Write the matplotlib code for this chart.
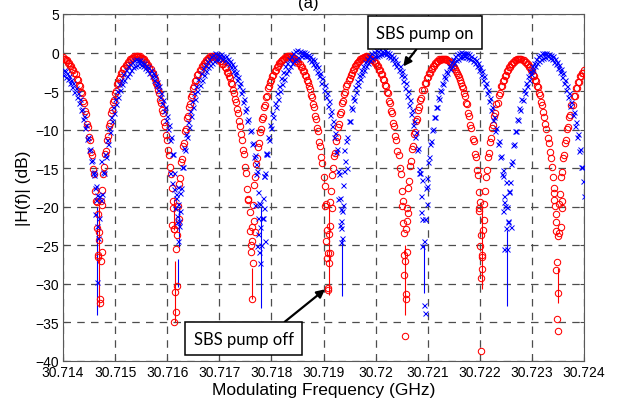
import numpy as np
import matplotlib
matplotlib.use("Agg")
import matplotlib.pyplot as plt

plt.rcParams['font.family'] = ['Liberation Sans', 'DejaVu Sans']

# sweep: start frequency (GHz) and step (MHz)
f_start = 30.714
step_mhz = 0.02

# |H(f)| in dB, SBS pump off (red circles), one value per sweep point
red_db = [
    # edge
    -0.6, -0.8, -0.8, -1.0, -1.0, -1.3, -1.4, -1.7, -1.7, -2.1, -2.2, -2.7, -2.8, -3.4, -3.5, -4.2, -4.3,
    -5.1, -5.3, -6.3, -6.5, -7.6, -8.0, -9.3, -9.6, -11.0, -11.4, -12.9, -13.3, -15.1, -15.8, -17.9, -19.2, -22.8,
    -26.5,
    # lobe 1
    -23.3, -19.2, -17.8, -15.7, -14.9, -13.2, -12.8, -11.3, -10.8, -9.5, -9.1, -7.9, -7.5, -6.4, -6.2, -5.2, -5.0,
    -4.1, -4.0, -3.4, -3.2, -2.7, -2.6, -2.1, -2.0, -1.6, -1.6, -1.2, -1.2, -0.9, -0.9, -0.7, -0.7, -0.5, -0.6,
    -0.4, -0.5,
    -0.5, -0.6, -0.5, -0.7, -0.7, -0.9, -0.9, -1.2, -1.2, -1.6, -1.6, -2.0, -2.1, -2.6, -2.7, -3.2, -3.4, -4.0,
    -4.2, -4.9, -5.3, -6.1, -6.5, -7.4, -7.9, -9.0, -9.5, -10.7, -11.3, -12.6, -13.3, -14.8, -15.8, -17.6, -19.3, -22.9,
    -25.5,
    # lobe 2
    -22.4, -19.9, -17.1, -16.3, -14.2, -13.8, -12.1, -11.7, -10.2, -9.9, -8.5, -8.2, -7.0, -6.7, -5.7, -5.5, -4.6,
    -4.3, -3.7, -3.5, -2.9, -2.8, -2.3, -2.2, -1.8, -1.7, -1.3, -1.3, -1.0, -1.0, -0.7, -0.7, -0.5, -0.6, -0.4, -0.4,
    -0.5, -0.4, -0.6, -0.6, -0.8, -0.8, -1.1, -1.1, -1.5, -1.5, -1.9, -2.0, -2.5, -2.6, -3.1, -3.3, -3.9, -4.1,
    -4.8, -5.2, -6.0, -6.4, -7.3, -7.9, -8.9, -9.5, -10.6, -11.3, -12.6, -13.2, -14.9, -15.6, -17.7, -19.1, -23.2,
    -25.0,
    # lobe 3
    -22.6, -19.8, -17.2, -16.2, -14.4, -13.7, -12.2, -11.7, -10.3, -9.9, -8.6, -8.3, -7.1, -6.8, -5.8, -5.6, -4.6,
    -4.4, -3.8, -3.6, -3.0, -2.9, -2.4, -2.3, -1.9, -1.8, -1.4, -1.4, -1.1, -1.0, -0.8, -0.8, -0.6, -0.6, -0.5,
    -0.5, -0.4,
    -0.5, -0.5, -0.7, -0.6, -0.8, -0.8, -1.1, -1.1, -1.4, -1.5, -1.9, -1.9, -2.4, -2.4, -2.9, -3.0, -3.6, -3.8,
    -4.4, -4.7, -5.5, -5.8, -6.7, -7.1, -8.2, -8.6, -9.8, -10.2, -11.6, -12.1, -13.6, -14.3, -16.1, -17.3, -19.7, -23.0,
    -26.0,
    # lobe 4
    -23.5, -19.4, -17.9, -15.9, -15.0, -13.4, -13.0, -11.5, -11.0, -9.6, -9.3, -8.0, -7.7, -6.6, -6.3, -5.4, -5.1,
    -4.4, -4.1, -3.6, -3.3, -2.9, -2.7, -2.3, -2.1, -1.8, -1.6, -1.4, -1.2, -1.1, -0.9, -0.9, -0.7, -0.7, -0.6,
    -0.6, -0.5,
    -0.6, -0.6, -0.7, -0.8, -0.8, -1.0, -1.1, -1.3, -1.3, -1.7, -1.7, -2.2, -2.2, -2.8, -2.8, -3.4, -3.5, -4.2,
    -4.3, -5.1, -5.3, -6.3, -6.5, -7.6, -7.9, -9.2, -9.5, -10.8, -11.3, -12.8, -13.3, -15.0, -15.8, -17.9, -19.2, -23.4,
    -27.0,
    # lobe 5
    -22.9, -20.1, -17.5, -16.6, -14.7, -14.1, -12.5, -12.1, -10.6, -10.3, -8.9, -8.6, -7.4, -7.1, -6.1, -5.9, -4.9,
    -4.8, -4.0, -3.9, -3.3, -3.2, -2.7, -2.6, -2.1, -2.1, -1.7, -1.7, -1.4, -1.4, -1.1, -1.1, -0.9, -1.0, -0.8,
    -0.9, -0.8,
    -0.8, -0.9, -0.9, -1.0, -1.1, -1.2, -1.4, -1.5, -1.7, -1.9, -2.1, -2.4, -2.6, -2.9, -3.2, -3.6, -3.9, -4.4,
    -4.6, -5.3, -5.6, -6.5, -6.7, -7.8, -8.2, -9.4, -9.8, -11.2, -11.5, -13.2, -13.5, -15.2, -15.9, -18.1, -19.4, -23.6,
    -26.5,
    # lobe 6
    -23.0, -19.6, -18.0, -16.1, -15.2, -13.6, -13.0, -11.6, -11.1, -9.8, -9.4, -8.2, -7.8, -6.7, -6.5, -5.5, -5.3,
    -4.4, -4.3, -3.7, -3.5, -3.0, -2.9, -2.4, -2.3, -1.9, -1.9, -1.5, -1.5, -1.2, -1.2, -1.0, -1.0, -0.8, -0.9, -0.8,
    -0.9, -0.8, -1.0, -1.0, -1.2, -1.2, -1.5, -1.5, -1.9, -1.9, -2.3, -2.4, -2.9, -3.0, -3.5, -3.7, -4.3, -4.5,
    -5.2, -5.5, -6.4, -6.8, -7.7, -8.3, -9.3, -9.9, -11.1, -11.7, -12.9, -13.7, -14.9, -16.1, -17.6, -19.9, -23.1,
    -27.2,
    # edge
    -23.8, -19.7, -18.3, -16.2, -15.5, -13.7, -13.3, -11.7, -11.4, -9.9, -9.7, -8.3, -8.1, -6.8, -6.8, -5.6, -5.6,
    -4.6, -4.6, -3.8, -3.8, -3.1, -3.1, -2.6, -2.6, -2.2,
]

# |H(f)| in dB, SBS pump on (blue crosses)
blue_db = [
    # edge
    -2.9, -2.2, -2.4, -3.2, -2.7, -3.4, -3.0, -3.9, -3.5, -4.5, -4.0, -5.1, -4.6, -5.8, -5.2, -6.6, -6.0,
    -7.5, -7.3, -8.6, -8.2, -9.8, -9.4, -11.2, -10.9, -12.6, -12.5, -14.1, -13.9, -15.6, -15.9, -17.6, -19.1, -22.5,
    -24.0,
    # lobe 1
    -21.5, -19.1, -18.4, -15.5, -15.6, -13.1, -13.5, -11.3, -11.9, -9.8, -10.3, -8.4, -8.9, -7.0, -7.8, -6.0, -6.7,
    -5.0, -5.7, -4.1, -4.9, -3.5, -4.1, -2.8, -3.5, -2.3, -3.0, -1.8, -2.6, -1.5, -2.2, -1.2, -1.9, -1.0, -1.7,
    -0.9, -1.6, -1.0,
    -1.3, -1.0, -1.6, -1.2, -1.8, -1.4, -2.0, -1.7, -2.3, -1.9, -2.7, -2.3, -3.1, -2.7, -3.6, -3.1, -4.2, -3.8,
    -4.9, -4.4, -5.7, -5.2, -6.6, -6.1, -7.6, -7.0, -8.7, -8.2, -9.9, -9.4, -11.4, -11.0, -13.1, -13.2, -15.6,
    -18.8, -22.0,
    -24.5,
    # lobe 2
    -21.8, -18.2, -17.6, -14.8, -14.8, -12.4, -12.7, -10.6, -11.0, -9.0, -9.6, -7.6, -8.2, -6.3, -7.0, -5.2, -6.0,
    -4.3, -5.0, -3.4, -4.2, -2.7, -3.5, -2.0, -2.9, -1.6, -2.4, -1.1, -1.9, -0.8, -1.6, -0.4, -1.3, -0.3, -1.1,
    -0.1, -0.9, -0.2, -0.8, -0.3,
    -0.6, -0.2, -0.8, -0.4, -1.0, -0.5, -1.2, -0.8, -1.5, -1.1, -1.9, -1.5, -2.4, -1.9, -2.9, -2.5, -3.6, -3.2,
    -4.4, -3.9, -5.3, -4.9, -6.4, -6.0, -7.6, -7.2, -8.9, -8.6, -10.2, -10.1, -11.8, -11.7, -13.6, -13.3, -15.7,
    -15.4, -18.1, -19.5, -22.6,
    -25.0,
    # lobe 3
    -21.4, -18.9, -16.0, -15.6, -13.1, -13.2, -11.0, -11.4, -9.4, -9.8, -7.9, -8.4, -6.5, -7.1, -5.3, -6.0, -4.3,
    -5.0, -3.3, -4.1, -2.5, -3.4, -1.8, -2.7, -1.3, -2.2, -0.8, -1.7, -0.4, -1.3, -0.1, -1.0, 0.2, -0.8, 0.3,
    -0.6, 0.2, -0.5, 0.1,
    -0.3, 0.1, -0.4, 0.0, -0.5, -0.3, -0.8, -0.5, -1.1, -0.8, -1.5, -1.0, -1.9, -1.5, -2.5, -1.9, -3.1, -2.6,
    -3.9, -3.3, -4.8, -4.2, -5.8, -5.2, -6.9, -6.3, -8.1, -7.6, -9.5, -8.9, -11.0, -10.4, -12.9, -12.5, -15.3,
    -15.8, -18.9, -21.8,
    -24.0,
    # lobe 4
    -19.8, -15.4, -14.1, -11.5, -11.0, -8.9, -8.9, -7.0, -7.3, -5.7, -6.1, -4.5, -5.1, -3.7, -4.2, -2.9, -3.4,
    -2.2, -2.8, -1.7, -2.3, -1.2, -1.8, -0.8, -1.3, -0.4, -1.0, -0.1, -0.7, 0.1, -0.5, 0.3, -0.4, 0.2, -0.3,
    0.4, -0.2, 0.2, -0.1,
    -0.1, 0.3, -0.2, 0.1, -0.4, -0.1, -0.6, -0.3, -0.9, -0.6, -1.3, -0.9, -1.7, -1.3, -2.3, -1.8, -2.9, -2.4,
    -3.7, -3.1, -4.6, -4.0, -5.6, -5.0, -6.8, -6.2, -8.0, -7.5, -9.4, -8.9, -10.9, -10.3, -12.7, -12.4, -15.1,
    -15.6, -18.6, -21.6,
    -24.5,
    # lobe 5
    -21.6, -17.5, -16.3, -14.2, -13.5, -11.8, -11.5, -10.0, -9.9, -8.4, -8.4, -7.0, -7.1, -5.8, -6.0, -4.8, -5.0,
    -3.9, -4.1, -3.0, -3.3, -2.4, -2.7, -1.8, -2.1, -1.2, -1.7, -0.8, -1.3, -0.4, -1.0, -0.2, -0.8, 0.0, -0.6,
    0.1, -0.6, 0.0, -0.5, -0.1,
    -0.6, 0.0, -0.7, -0.2, -0.9, -0.4, -1.1, -0.7, -1.4, -1.0, -1.8, -1.4, -2.3, -1.9, -2.9, -2.4, -3.6, -3.1,
    -4.4, -3.9, -5.3, -4.8, -6.3, -5.9, -7.5, -7.0, -8.8, -8.4, -10.2, -9.8, -11.8, -11.5, -13.6, -13.4, -15.8,
    -16.0, -18.6, -19.9, -22.8,
    -25.5,
    # lobe 6
    -21.9, -18.0, -16.8, -14.5, -14.0, -12.0, -11.9, -10.2, -10.2, -8.6, -8.8, -7.2, -7.4, -6.0, -6.2, -4.9, -5.2,
    -4.0, -4.3, -3.1, -3.5, -2.4, -2.8, -1.8, -2.3, -1.3, -1.8, -0.9, -1.4, -0.5, -1.1, -0.3, -0.9, -0.1, -0.7,
    0.0, -0.6, -0.1,
    -0.5, -0.2, -0.7, -0.3, -0.9, -0.5, -1.2, -0.8, -1.5, -1.2, -2.0, -1.6, -2.5, -2.1, -3.2, -2.7, -4.0, -3.5,
    -4.8, -4.3, -5.8, -5.3, -6.9, -6.4, -8.1, -7.7, -9.5, -9.0, -11.0, -10.5, -12.8, -12.5, -14.8, -14.9, -16.6,
    -18.6,
]

# extra points inside the notches (offset in MHz from 30.714 GHz, dB)
red_notch_mhz = [0.65, 0.74, 0.67, 0.69, 0.74, 0.67, 0.73, 0.71, 0.71,
                 2.12, 2.10, 2.13, 2.18, 2.23, 2.19, 2.15, 2.16, 2.14,
                 3.56, 3.59, 3.67, 3.69, 3.62, 3.60, 3.65, 3.63,
                 5.03, 5.16, 5.13, 5.04, 5.13, 5.07, 5.11, 5.08, 5.09,
                 6.50, 6.62, 6.53, 6.61, 6.60, 6.55, 6.55, 6.58, 6.58, 6.56,
                 7.99, 7.99, 8.09, 8.00, 8.04, 8.04, 8.02, 8.02,
                 9.42, 9.42, 9.57, 9.57, 9.46, 9.46, 9.55, 9.52, 9.46, 9.51, 9.49, 9.50]
red_notch_db = [-19.4, -19.8, -21.0, -24.3, -25.9, -26.3, -27.0, -31.9, -32.5,
                -20.1, -22.3, -22.9, -23.7, -21.6, -30.3, -31.0, -33.7, -35.0,
                -19.0, -20.7, -21.8, -23.3, -24.4, -25.9, -27.3, -31.9,
                -19.9, -20.1, -22.5, -24.4, -26.0, -26.7, -27.3, -30.5, -30.8,
                -19.9, -20.8, -22.1, -21.9, -25.9, -26.3, -28.8, -31.3, -31.9, -36.8,
                -20.2, -20.6, -21.7, -25.1, -26.2, -28.1, -29.3, -38.7,
                -18.2, -19.1, -19.2, -20.1, -20.9, -22.0, -22.6, -23.4, -28.2, -31.2, -34.6, -36.1]

blue_notch_mhz = [0.60, 0.63, 0.66, 0.61, 0.65, 0.70, 0.72,
                  2.13, 2.17, 2.21, 2.15, 2.18, 2.23, 2.20, 2.25, 2.05, 2.09,
                  3.69, 3.78, 3.85, 3.75, 3.83, 3.74, 3.72, 3.87, 3.77, 3.78, 3.70, 3.86, 3.90,
                  5.28, 5.33, 5.36, 5.32, 5.33, 5.34, 5.40, 5.45, 5.38,
                  6.87, 6.95, 6.98, 6.90, 6.92, 6.95, 6.84, 6.90, 6.99,
                  8.46, 8.52, 8.44, 8.54, 8.59, 8.46, 8.44, 8.50, 8.57]
blue_notch_db = [-15.5, -17.3, -18.5, -21.0, -29.8, -18.6, -14.0,
                 -17.7, -18.4, -17.4, -20.1, -21.2, -22.5, -19.6, -20.6, -15.6, -16.9,
                 -19.8, -19.7, -20.1, -21.4, -21.4, -23.5, -25.1, -24.5, -25.8, -27.3, -14.5, -16.0, -13.0,
                 -19.0, -20.3, -20.5, -22.4, -22.7, -24.6, -12.6, -15.0, -17.2,
                 -20.7, -21.6, -19.7, -25.1, -32.8, -33.8, -15.6, -16.5, -17.3,
                 -19.4, -20.0, -20.6, -22.0, -22.6, -25.5, -15.2, -16.8, -18.1]

# thin vertical traces through the notches (MHz, top dB, bottom dB)
red_line_mhz = [0.69, 2.13, 2.15, 3.63, 5.11, 6.56, 8.04, 9.50]
red_line_top = [-20.0, -19.0, -27.0, -28.0, -20.0, -25.0, -20.0, -28.0]
red_line_bot = [-33.0, -23.0, -35.0, -32.0, -31.5, -34.0, -30.7, -32.5]
blue_line_mhz = [0.65, 2.22, 2.21, 3.80, 5.36, 6.93, 8.53]
blue_line_top = [-20.0, -20.0, -26.8, -20.0, -24.0, -25.0, -23.0]
blue_line_bot = [-34.0, -25.2, -30.4, -33.1, -31.6, -31.2, -32.9]

xtick_vals = [30.714, 30.715, 30.716, 30.717, 30.718, 30.719, 30.72, 30.721, 30.722, 30.723, 30.724]
xtick_labels = ['30.714', '30.715', '30.716', '30.717', '30.718', '30.719', '30.72',
                '30.721', '30.722', '30.723', '30.724']
ytick_vals = [5, 0, -5, -10, -15, -20, -25, -30, -35, -40]


def ghz(mhz):
    return f_start + np.asarray(mhz) / 1000.0


red_f = ghz(np.arange(len(red_db)) * step_mhz)
blue_f = ghz(np.arange(len(blue_db)) * step_mhz)

fig = plt.figure(figsize=(6.24, 4.02), dpi=100)
ax = fig.add_axes([63 / 624, 1 - 362 / 402, 521 / 624, 347 / 402])

ax.vlines(ghz(red_line_mhz), red_line_bot, red_line_top, colors='r', lw=0.8, zorder=2)
ax.vlines(ghz(blue_line_mhz), blue_line_bot, blue_line_top, colors='b', lw=0.8, zorder=2)

ax.plot(red_f, red_db, ls='none', marker='o', mfc='none', mec='r', ms=4.6, mew=0.75, zorder=3)
ax.plot(ghz(red_notch_mhz), red_notch_db, ls='none', marker='o', mfc='none', mec='r',
        ms=4.6, mew=0.75, zorder=3)
ax.plot(blue_f, blue_db, ls='none', marker='x', color='b', ms=3.6, mew=0.7, zorder=4)
ax.plot(ghz(blue_notch_mhz), blue_notch_db, ls='none', marker='x', color='b',
        ms=3.6, mew=0.7, zorder=4)

ax.set_xlim(30.714, 30.724)
ax.set_ylim(-40, 5)
ax.set_xticks(xtick_vals)
ax.set_xticklabels(xtick_labels)
ax.set_yticks(ytick_vals)
ax.tick_params(direction='in', top=True, right=True, length=3, labelsize=10, pad=3,
               color='0.3')
ax.grid(True, ls=(0, (6, 5)), color='0.3', lw=0.9)
ax.set_axisbelow(True)
for s in ax.spines.values():
    s.set_color('0.35')
    s.set_linewidth(0.8)

ax.set_xlabel('Modulating Frequency (GHz)', fontsize=12.5, labelpad=2)
ax.set_ylabel('|H(f)| (dB)', fontsize=12.5, labelpad=3)

box = dict(boxstyle='square,pad=0.5', fc='white', ec='black', lw=1.1)
ax.annotate('SBS pump on', xy=(30.72053, -1.8), xytext=(30.72095, 2.6),
            ha='center', va='center', fontsize=12, family='Lato', bbox=box, zorder=6,
            arrowprops=dict(arrowstyle='-|>', color='black', lw=1.6, mutation_scale=12,
                            relpos=(0.48, 0.0), shrinkA=0, shrinkB=0))
ax.annotate('SBS pump off', xy=(30.71903, -30.7), xytext=(30.71747, -37.1),
            ha='center', va='center', fontsize=12, family='Lato', bbox=box, zorder=6,
            arrowprops=dict(arrowstyle='-|>', color='black', lw=1.6, mutation_scale=12,
                            relpos=(0.8, 1.0), shrinkA=0, shrinkB=0))

fig.text(308 / 624, 1 - 8 / 402, '(a)', ha='center', va='baseline', fontsize=12)

fig.savefig('out.png', dpi=100)
